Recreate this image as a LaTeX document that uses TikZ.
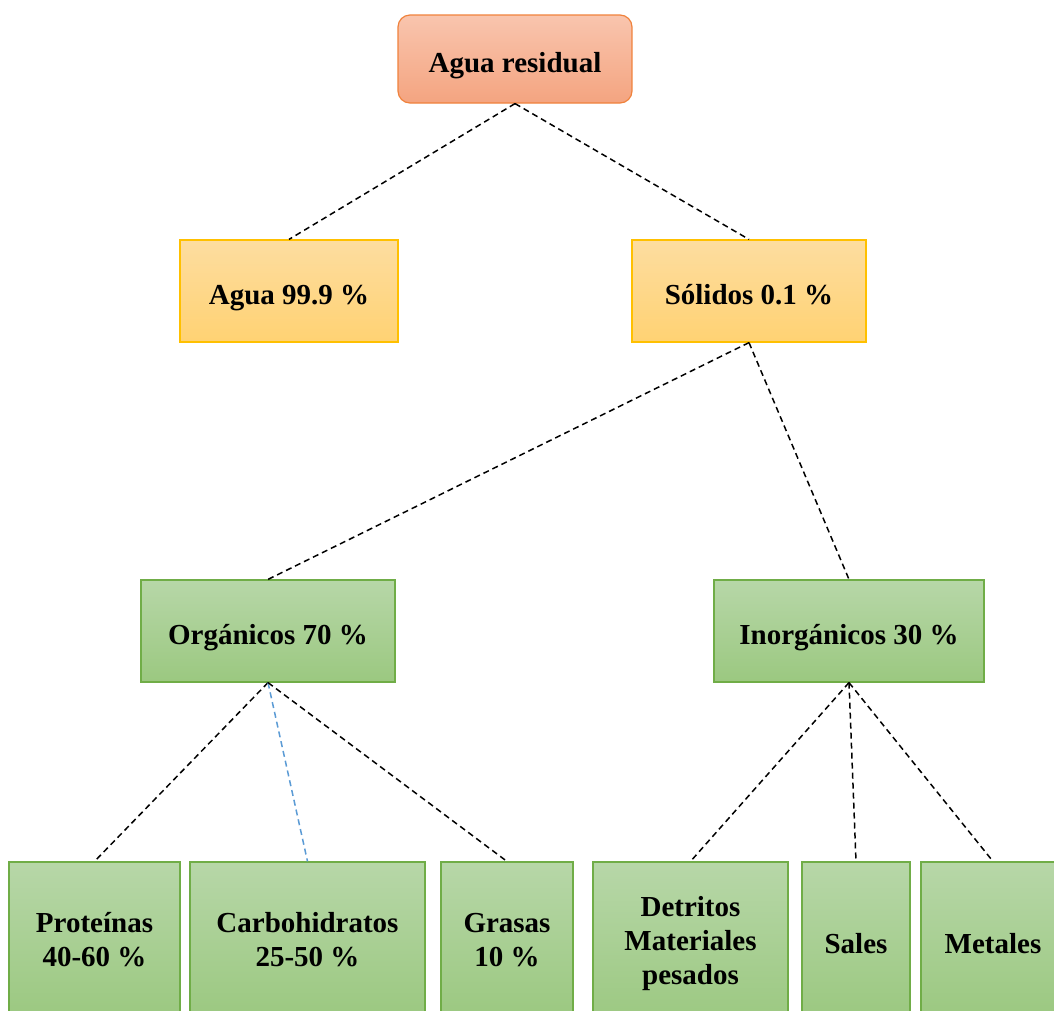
\documentclass[tikz,border=0pt]{standalone}
\usepackage{fontspec}
\setmainfont{Liberation Serif}
\definecolor{orT}{RGB}{249,197,174}
\definecolor{orB}{RGB}{244,164,128}
\definecolor{orD}{RGB}{240,130,60}
\definecolor{yeT}{RGB}{253,221,160}
\definecolor{yeB}{RGB}{255,210,115}
\definecolor{yeD}{RGB}{255,192,0}
\definecolor{grT}{RGB}{183,215,168}
\definecolor{grB}{RGB}{155,200,128}
\definecolor{grD}{RGB}{112,173,71}
\definecolor{blueL}{RGB}{91,155,213}
\tikzset{
  x=1pt,y=-1pt,
  txt/.style={font=\bfseries\fontsize{29}{34}\selectfont,align=center,inner sep=0pt},
  one/.style={text height=26pt,text depth=0pt},
  orbox/.style={txt,rounded corners=12pt,draw=orD,line width=1.2pt,top color=orT,bottom color=orB},
  yebox/.style={txt,draw=yeD,line width=1.2pt,top color=yeT,bottom color=yeB},
  grbox/.style={txt,draw=grD,line width=1.2pt,top color=grT,bottom color=grB},
  conn/.style={line width=1.5pt,dash pattern=on 6pt off 4pt},
  connb/.style={conn,draw=blueL}
}
\begin{document}
\begin{tikzpicture}
\clip (0,0) rectangle (1054,1010);
\fill[white] (0,0) rectangle (1054,1010);
\node[orbox,one,minimum width=234pt,minimum height=88pt] (ar) at (515,59) {Agua residual};
\node[yebox,one,minimum width=218pt,minimum height=102pt] (ag) at (289,291) {Agua 99.9 \%};
\node[yebox,one,minimum width=234pt,minimum height=102pt] (so) at (749,291) {Sólidos 0.1 \%};
\node[grbox,one,minimum width=254pt,minimum height=102pt] (or) at (268,631) {Orgánicos 70 \%};
\node[grbox,one,minimum width=270pt,minimum height=102pt] (in) at (849,631) {Inorgánicos 30 \%};
\node[grbox,minimum width=171pt,minimum height=156pt] (pr) at (94.5,940) {Proteínas\\40-60 \%};
\node[grbox,minimum width=235pt,minimum height=156pt] (ca) at (307.5,940) {Carbohidratos\\25-50 \%};
\node[grbox,minimum width=132pt,minimum height=156pt] (gr) at (507,940) {Grasas\\10 \%};
\node[grbox,minimum width=195pt,minimum height=164pt] (de) at (690.5,944) {Detritos\\Materiales\\pesados};
\node[grbox,one,minimum width=108pt,minimum height=156pt] (sa) at (856,940) {Sales};
\node[grbox,one,minimum width=144pt,minimum height=156pt] (me) at (993,940) {Metales};
\draw[conn] (ar.south) -- (ag.north);
\draw[conn] (ar.south) -- (so.north);
\draw[conn] (so.south) -- (or.north);
\draw[conn] (so.south) -- (in.north);
\draw[conn] (or.south) -- (pr.north);
\draw[connb] (or.south) -- (ca.north);
\draw[conn] (or.south) -- (gr.north);
\draw[conn] (in.south) -- (de.north);
\draw[conn] (in.south) -- (sa.north);
\draw[conn] (in.south) -- (me.north);
\end{tikzpicture}
\end{document}
